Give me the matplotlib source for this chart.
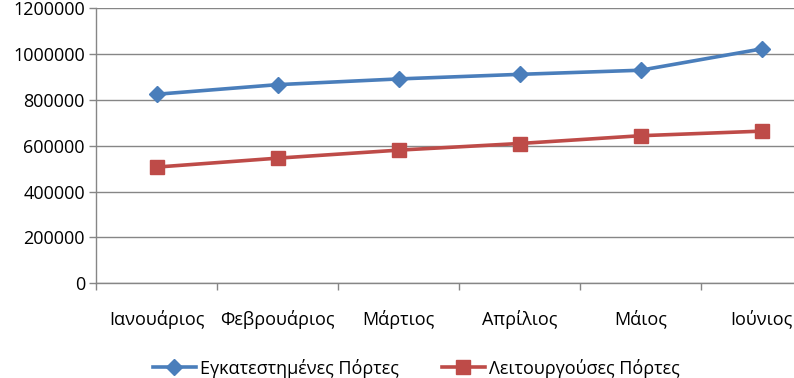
import matplotlib
matplotlib.use("Agg")
import matplotlib.pyplot as plt
from matplotlib.ticker import FixedLocator

months = ["Ιανουάριος", "Φεβρουάριος", "Μάρτιος", "Απρίλιος", "Μάιος", "Ιούνιος"]
installed = [825000, 867000, 892000, 912000, 930000, 1023000]
operating = [507000, 546000, 581000, 610000, 644000, 664000]
yticks = [0, 200000, 400000, 600000, 800000, 1000000, 1200000]
series_names = ["Εγκατεστημένες Πόρτες", "Λειτουργούσες Πόρτες"]

plt.rcParams['font.family'] = ['Open Sans', 'DejaVu Sans']

fig = plt.figure(figsize=(7.94, 3.78), dpi=100)
ax = fig.add_axes([96/794, 1-283.2/378, 726/794, (283.2-8.4)/378])

grid_c = "#868686"
x = list(range(len(months)))
ax.plot(x, installed, color="#4A7EBB", lw=2.6, marker="D", ms=8.5, label=series_names[0], zorder=3)
ax.plot(x, operating, color="#BE4B48", lw=2.6, marker="s", ms=10, label=series_names[1], zorder=3)

ax.set_xlim(-0.5, len(months)-0.5)
ax.set_ylim(0, 1200000)
ax.set_yticks(yticks)
ax.set_yticklabels([str(v) for v in yticks], fontsize=13)
ax.set_xticks(x)
ax.set_xticklabels(months, fontsize=13)
ax.xaxis.set_minor_locator(FixedLocator([i - 0.5 for i in range(len(months)+1)]))
ax.tick_params(axis="x", which="major", length=0, pad=19)
ax.tick_params(axis="x", which="minor", length=5, color=grid_c, width=1)
ax.tick_params(axis="y", length=5, color=grid_c, width=1, pad=3)
ax.grid(axis="y", color=grid_c, lw=1)
ax.set_axisbelow(True)
for s in ["top", "right"]:
    ax.spines[s].set_visible(False)
for s in ["left", "bottom"]:
    ax.spines[s].set_color(grid_c)
    ax.spines[s].set_linewidth(1)

leg = fig.legend(loc="center", bbox_to_anchor=(416/794, 1-368/378), ncol=2, frameon=False,
                 fontsize=13, handlelength=2.4, columnspacing=2.4, handletextpad=0.2)

fig.savefig("out.png", dpi=100)
